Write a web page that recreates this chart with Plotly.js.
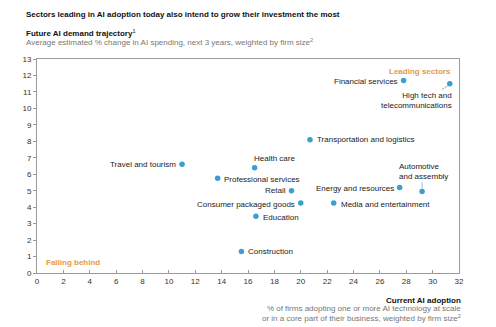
<!DOCTYPE html>
<html><head><meta charset="utf-8">
<script src="https://cdn.plot.ly/plotly-3.0.1.min.js"></script>
<style>html,body{margin:0;padding:0;background:#fff;}#chart{width:496px;height:327px;}</style>
</head><body><div id="chart"></div>
<script>
// Data
var sectors = ["Travel and tourism","Professional services","Financial services","High tech and<br>telecommunications","Transportation and logistics","Health care","Retail","Energy and resources","Automotive<br>and assembly","Consumer packaged goods","Media and entertainment","Education","Construction"];
var adoption = [11.0, 13.7, 27.8, 31.3, 20.7, 16.5, 19.3, 27.5, 29.2, 20.0, 22.5, 16.6, 15.5];
var demand   = [6.6, 5.75, 11.7, 11.5, 8.1, 6.4, 5.0, 5.2, 4.95, 4.25, 4.25, 3.45, 1.3];
var xTicks = [0,2,4,6,8,10,12,14,16,18,20,22,24,26,28,30,32];
var yTicks = [0,1,2,3,4,5,6,7,8,9,10,11,12,13];

// Label placement (style only): xanchor, xshift, yanchor, yshift, align
var place = [
  ["right",-4,"middle",0,"right"],
  ["left",4,"middle",-1,"left"],
  ["right",-4,"middle",-1,"right"],
  ["right",4,"top",-5,"right"],
  ["left",5,"middle",0,"left"],
  ["left",-3,"bottom",3,"left"],
  ["right",-4,"middle",0,"right"],
  ["right",-4,"middle",-1,"right"],
  ["left",-25,"bottom",9,"left"],
  ["right",-4,"middle",-1,"right"],
  ["left",5,"middle",-1,"left"],
  ["left",5,"middle",-1,"left"],
  ["left",5,"middle",0,"left"]
];

var L=37, T=59, W=422, H=214;
function px(x){return (x-L)/W;}
function py(y){return (T+H-y)/H;}
var FONT = "Liberation Sans, Arial, sans-serif";
var BLUE = "#3b9fd1", ORANGE = "#e59a45";

var ann = [];
for (var i=0;i<sectors.length;i++){
  var p = place[i];
  ann.push({x:adoption[i], y:demand[i], xref:"x", yref:"y", text:sectors[i], showarrow:false,
    xanchor:p[0], xshift:p[1], yanchor:p[2], yshift:p[3], align:p[4],
    font:{family:FONT,size:8,color:"#222"}});
}
function txt(t,x,y,opts){
  var a = {text:t, x:px(x), y:py(y), xref:"paper", yref:"paper", showarrow:false,
    xanchor:"left", yanchor:"middle", font:{family:FONT,size:8,color:"#111"}};
  for (var k in opts){ a[k]=opts[k]; }
  return a;
}
ann.push(txt("<b>Sectors leading in AI adoption today also intend to grow their investment the most</b>",24,15,{}));
ann.push(txt("<b>Future AI demand trajectory</b><sup>1</sup>",24,33,{}));
ann.push(txt("Average estimated % change in AI spending, next 3 years, weighted by firm size<sup>2</sup>",24,42,{font:{family:FONT,size:8,color:"#777"}}));
ann.push(txt("<b>Leading sectors</b>",453,71,{xanchor:"right",font:{family:FONT,size:8,color:ORANGE}}));
ann.push(txt("<b>Falling behind</b>",44,262,{font:{family:FONT,size:8,color:ORANGE}}));
ann.push(txt("<b>Current AI adoption</b>",463,300,{xanchor:"right",font:{family:FONT,size:8,color:"#111"}}));
ann.push(txt("% of firms adopting one or more AI technology at scale<br>or in a core part of their business, weighted by firm size<sup>2</sup>",463,313.5,{xanchor:"right",align:"right",font:{family:FONT,size:8,color:"#777"}}));

// leader lines (pixel offsets anchored at data points)
var shapes = [
  {type:"line", xref:"x", yref:"y", xsizemode:"pixel", ysizemode:"pixel",
   xanchor:adoption[3], yanchor:demand[3], x0:-2, y0:-2, x1:-8, y1:-6, line:{color:"#7aaecb",width:0.8}},
  {type:"line", xref:"x", yref:"y", xsizemode:"pixel", ysizemode:"pixel",
   xanchor:adoption[8], yanchor:demand[8], x0:0, y0:3, x1:0, y1:9, line:{color:"#7aaecb",width:0.8}}
];

var trace = {x:adoption, y:demand, mode:"markers", type:"scatter",
  marker:{color:BLUE, size:5.5}, hoverinfo:"none", cliponaxis:false};

var layout = {
  width:496, height:327, margin:{l:L, r:496-L-W, t:T, b:327-T-H},
  paper_bgcolor:"#fff", plot_bgcolor:"#fff", showlegend:false,
  font:{family:FONT, size:8, color:"#333"},
  xaxis:{range:[0,32], tickvals:xTicks, ticktext:xTicks.map(String), showgrid:false, zeroline:false,
    showline:true, mirror:true, linecolor:"#9a9a9a", linewidth:1, ticks:"inside", ticklen:3, tickcolor:"#9a9a9a",
    tickfont:{family:FONT,size:8,color:"#333"}, fixedrange:true},
  yaxis:{range:[0,13], tickvals:yTicks, ticktext:yTicks.map(String), showgrid:false, zeroline:false,
    showline:true, mirror:true, linecolor:"#9a9a9a", linewidth:1, ticks:"outside", ticklen:3, tickcolor:"#9a9a9a",
    tickfont:{family:FONT,size:8,color:"#333"}, fixedrange:true},
  annotations:ann, shapes:shapes
};
Plotly.newPlot("chart",[trace],layout,{displayModeBar:false, staticPlot:true});
</script></body></html>
